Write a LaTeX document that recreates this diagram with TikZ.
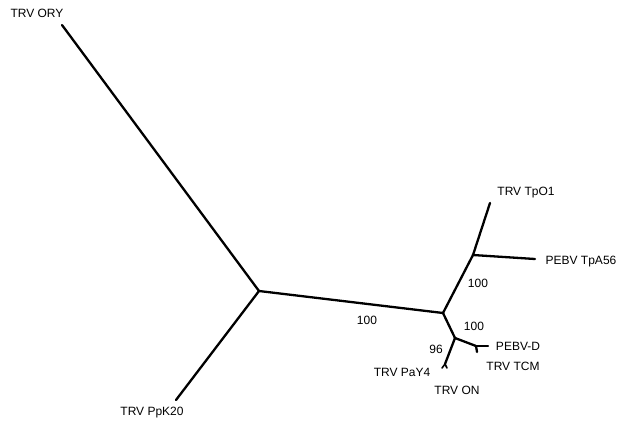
\documentclass[tikz,border=0pt]{standalone}
\usepackage{fontspec}
\setmainfont{Liberation Sans}
\begin{document}
\begin{tikzpicture}[x=1pt,y=-1pt,
  br/.style={line width=2.3pt,line cap=round,line join=round},
  lab/.style={font=\fontsize{12}{14}\selectfont,inner sep=0pt},
  boot/.style={font=\fontsize{12}{14}\selectfont,inner sep=0pt}]
\useasboundingbox (0,0) rectangle (619,423);
% internal nodes and tips
\coordinate (A) at (259,291);
\coordinate (B) at (443,313);
\coordinate (C) at (473,255);
\coordinate (D) at (455,338);
\coordinate (E) at (476,346);
\coordinate (F) at (445,364);
\coordinate (ory) at (62,25);
\coordinate (ppk) at (176,400);
\coordinate (tpo) at (490,203);
\coordinate (tpa) at (535,259);
\coordinate (pebvd) at (488,346);
\coordinate (tcm) at (477,352);
\coordinate (pay) at (442,368);
\coordinate (on) at (447,368);
% branches
\draw[br] (A) -- (ory);
\draw[br] (A) -- (ppk);
\draw[br] (A) -- (B);
\draw[br] (B) -- (C);
\draw[br] (C) -- (tpo);
\draw[br] (C) -- (tpa);
\draw[br] (B) -- (D);
\draw[br] (D) -- (E);
\draw[br] (E) -- (pebvd);
\draw[br] (E) -- (tcm);
\draw[br] (D) -- (F);
\draw[br,line width=1.6pt] (F) -- (pay);
\draw[br,line width=1.6pt] (F) -- (on);
% labels
\node[lab] (lory) at (37,13) {TRV ORY};
\node[lab] (lppk) at (152,413) {TRV PpK20};
\node[lab] (ltpo) at (526,193) {TRV TpO1};
\node[lab] (ltpa) at (581,262) {PEBV TpA56};
\node[lab] (lpebvd) at (518,346) {PEBV-D};
\node[lab] (ltcm) at (513,366) {TRV TCM};
\node[lab] (lpay) at (402,372) {TRV PaY4};
\node[lab] (lon) at (457,390) {TRV ON};
% bootstrap values
\node[boot] (b1) at (367,320) {100};
\node[boot] (b2) at (478,283) {100};
\node[boot] (b3) at (474,326) {100};
\node[boot] (b4) at (436,349) {96};
\end{tikzpicture}
\end{document}
